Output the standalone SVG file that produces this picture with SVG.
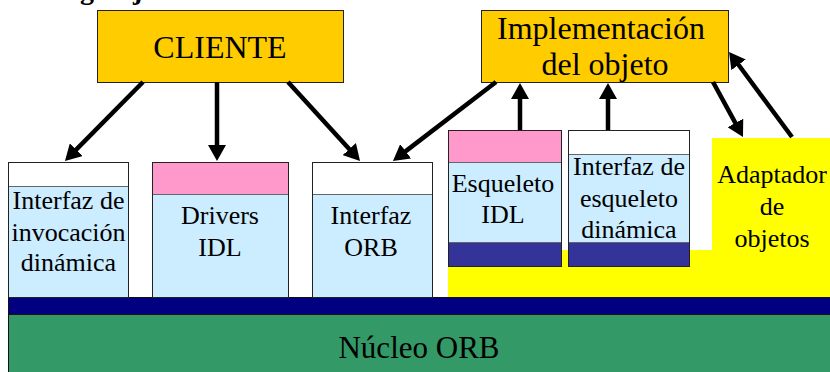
<svg xmlns="http://www.w3.org/2000/svg" width="830" height="372" viewBox="0 0 830 372">
  <style>
    text { fill: #000; text-anchor: middle; }
    .big { font-size: 32px; }
    .lbl { font-size: 26px; }
    .edge { fill: none; stroke: #222; stroke-width: 1; }
    .div { stroke: #666; stroke-width: 1; }
    .gold { fill: #FFCC00; stroke: #222; stroke-width: 1; }
    .blue { fill: #CCECFF; }
    .pink { fill: #FF99CC; }
    .white { fill: #FFFFFF; }
    .indigo { fill: #333399; }
    .conn line { stroke: #000; stroke-width: 4.5; marker-end: url(#ah); }
  </style>
  <defs>
    <marker id="ah" viewBox="0 0 16 18" refX="6" refY="9" markerWidth="16" markerHeight="18" markerUnits="userSpaceOnUse" orient="auto">
      <path d="M0,0 L16,9 L0,18 z" fill="#000"/>
    </marker>
  </defs>

  <rect x="0" y="0" width="830" height="372" fill="#FFFFFF"/>

  <g font-family="'Liberation Serif', 'Times New Roman', serif">

  <!-- title line, mostly above the top edge -->
  <text x="0" y="-1" font-size="28" font-weight="bold" style="text-anchor:start"><tspan x="80">g</tspan><tspan x="133">j</tspan></text>

  <!-- object adapter area (yellow step) -->
  <g id="adaptador">
    <polygon points="448,250 712,250 712,138 831,138 831,298 448,298" fill="#FFFF00"/>
    <text class="lbl" x="772" y="183">Adaptador</text>
    <text class="lbl" x="772" y="215">de</text>
    <text class="lbl" x="772" y="247">objetos</text>
  </g>

  <!-- ORB core -->
  <g id="nucleo">
    <rect x="8.5" y="297.5" width="823" height="17" fill="#000080" stroke="#111" stroke-width="1"/>
    <rect x="8.5" y="314.5" width="823" height="60" fill="#339966" stroke="#111" stroke-width="1"/>
    <text x="419" y="358" font-size="31">Núcleo ORB</text>
  </g>

  <g id="cliente">
    <rect class="gold" x="97.5" y="10.5" width="246" height="72"/>
    <text class="big" x="220" y="58">CLIENTE</text>
  </g>

  <g id="implementacion">
    <rect class="gold" x="481.5" y="10.5" width="247" height="72"/>
    <text class="big" x="601" y="39">Implementación</text>
    <text class="big" x="605" y="75">del objeto</text>
  </g>

  <g id="invocacion-dinamica">
    <rect class="white" x="8.5" y="162.5" width="120" height="24"/>
    <rect class="blue" x="8.5" y="186.5" width="120" height="111"/>
    <line class="div" x1="8.5" y1="186.5" x2="128.5" y2="186.5"/>
    <rect class="edge" x="8.5" y="162.5" width="120" height="135"/>
    <text class="lbl" x="68.5" y="209">Interfaz de</text>
    <text class="lbl" x="68.5" y="241">invocación</text>
    <text class="lbl" x="68.5" y="271">dinámica</text>
  </g>

  <g id="drivers-idl">
    <rect class="pink" x="152.5" y="162.5" width="136" height="32"/>
    <rect class="blue" x="152.5" y="194.5" width="136" height="103"/>
    <line class="div" x1="152.5" y1="194.5" x2="288.5" y2="194.5"/>
    <rect class="edge" x="152.5" y="162.5" width="136" height="135"/>
    <text class="lbl" x="220" y="224">Drivers</text>
    <text class="lbl" x="220" y="256">IDL</text>
  </g>

  <g id="interfaz-orb">
    <rect class="white" x="312.5" y="162.5" width="120" height="32"/>
    <rect class="blue" x="312.5" y="194.5" width="120" height="103"/>
    <line class="div" x1="312.5" y1="194.5" x2="432.5" y2="194.5"/>
    <rect class="edge" x="312.5" y="162.5" width="120" height="135"/>
    <text class="lbl" x="371" y="224">Interfaz</text>
    <text class="lbl" x="371" y="256">ORB</text>
  </g>

  <g id="esqueleto-idl">
    <rect class="pink" x="448.5" y="130.5" width="113" height="32"/>
    <rect class="blue" x="448.5" y="162.5" width="113" height="80"/>
    <rect class="indigo" x="448.5" y="242.5" width="113" height="24"/>
    <line class="div" x1="448.5" y1="162.5" x2="561.5" y2="162.5"/>
    <line class="div" x1="448.5" y1="242.5" x2="561.5" y2="242.5"/>
    <rect class="edge" x="448.5" y="130.5" width="113" height="136"/>
    <text class="lbl" x="503" y="192">Esqueleto</text>
    <text class="lbl" x="503" y="223">IDL</text>
  </g>

  <g id="esqueleto-dinamico">
    <rect class="white" x="568.5" y="130.5" width="121" height="24"/>
    <rect class="blue" x="568.5" y="154.5" width="121" height="88"/>
    <rect class="indigo" x="568.5" y="242.5" width="121" height="24"/>
    <line class="div" x1="568.5" y1="154.5" x2="689.5" y2="154.5"/>
    <line class="div" x1="568.5" y1="242.5" x2="689.5" y2="242.5"/>
    <rect class="edge" x="568.5" y="130.5" width="121" height="136"/>
    <text class="lbl" x="629" y="175">Interfaz de</text>
    <text class="lbl" x="629" y="207">esqueleto</text>
    <text class="lbl" x="629" y="238">dinámica</text>
  </g>

  </g>

  <g id="connectors" class="conn">
    <line x1="143" y1="82" x2="72" y2="153.9"/>
    <line x1="217" y1="82" x2="217" y2="151"/>
    <line x1="288" y1="82" x2="353.3" y2="153.6"/>
    <line x1="496" y1="82" x2="400.9" y2="154.9"/>
    <line x1="520" y1="130" x2="520" y2="93"/>
    <line x1="608" y1="130" x2="608" y2="93"/>
    <line x1="713" y1="82" x2="738.2" y2="128.2"/>
    <line x1="792" y1="137" x2="735" y2="60"/>
  </g>
</svg>
